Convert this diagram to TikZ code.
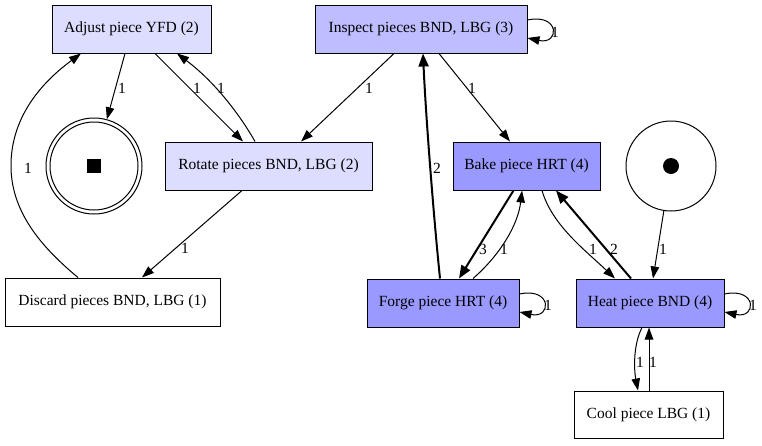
\documentclass[tikz,border=0pt]{standalone}
\usepackage{fontspec}
\setmainfont{Liberation Serif}
\usetikzlibrary{arrows.meta,calc}
\definecolor{lightp}{HTML}{DDDDFF}
\definecolor{midp}{HTML}{BDBDFF}
\definecolor{darkp}{HTML}{9999FF}
\tikzset{
  trans/.style={draw=black, line width=1pt, rectangle, minimum height=48pt, inner sep=0pt, font=\fontsize{15.5}{18}\selectfont},
  edge/.style={line width=1pt, -{Triangle[length=12pt,width=8.5pt]}},
  heavy/.style={line width=2pt, -{Triangle[length=13pt,width=10pt]}},
  lbl/.style={font=\fontsize{15.5}{18}\selectfont, inner sep=0pt},
  place/.style={draw=black, circle, line width=1pt, inner sep=0pt}
}
\begin{document}
\begin{tikzpicture}[x=1pt,y=-1pt]
\useasboundingbox[fill=white] (0,0) rectangle (762,445);
% nodes
\node[trans, fill=lightp, minimum width=159pt] (adjust) at (131.5,29) {Adjust piece YFD (2)};
\node[trans, fill=midp, minimum width=212pt] (inspect) at (421,29) {Inspect pieces BND, LBG (3)};
\node[trans, fill=lightp, minimum width=207pt] (rotate) at (268.5,166) {Rotate pieces BND, LBG (2)};
\node[trans, fill=darkp, minimum width=147pt] (bake) at (526.5,166) {Bake piece HRT (4)};
\node[trans, fill=white, minimum width=215pt] (discard) at (112.5,302) {Discard pieces BND, LBG (1)};
\node[trans, fill=darkp, minimum width=152pt] (forge) at (443,303) {Forge piece HRT (4)};
\node[trans, fill=darkp, minimum width=148pt] (heat) at (650,303) {Heat piece BND (4)};
\node[trans, fill=white, minimum width=149pt, minimum height=47pt] (cool) at (648.5,414.5) {Cool piece LBG (1)};
\node[place, minimum size=96pt] (final) at (94,166) {};
\draw[line width=1pt] (final.center) circle[radius=44pt];
\node[fill=black, minimum size=14pt, inner sep=0pt] (fsq) at (final.center) {};
\node[place, minimum size=90pt] (start) at (671,166) {};
\node[fill=black, circle, minimum size=16pt, inner sep=0pt] (sdot) at (start.center) {};
% edges
\draw[edge] ([xshift=-6.5pt]adjust.south) -- (final) node[lbl] at (122,88) {1};
\draw[edge] ([xshift=23.5pt]adjust.south) -- ([xshift=-25.5pt]rotate.north) node[lbl] at (197,88) {1};
\draw[edge] ([xshift=-13.5pt]rotate.north) .. controls (240,115) and (215,82) .. ([xshift=45.5pt]adjust.south) node[lbl] at (221,88) {1};
\draw[edge] ([xshift=-34.5pt]discard.north) .. controls (45,250) and (12,215) .. (11,168) .. controls (10,115) and (45,80) .. ([xshift=-50.5pt]adjust.south) node[lbl] at (28,168) {1};
\draw[edge] ([xshift=-26.5pt]rotate.south) -- ([xshift=29.5pt]discard.north) node[lbl] at (185,248) {1};
\draw[edge] ([xshift=-27pt]inspect.south) -- ([xshift=32.5pt]rotate.north) node[lbl] at (369,88) {1};
\draw[edge] ([xshift=18pt]inspect.south) -- ([xshift=-16.5pt]bake.north) node[lbl] at (472,88) {1};
\draw[edge] ([yshift=9pt]inspect.east) .. controls (560,13) and (560,45) .. ([yshift=-9pt]inspect.east) node[lbl] at (555,32) {1};
\draw[heavy] ([xshift=-3pt]forge.north) .. controls (434,220) and (426,120) .. ([xshift=2pt]inspect.south) node[lbl] at (437,168) {2};
\draw[heavy] ([xshift=-13pt]bake.south) -- ([xshift=16pt]forge.north) node[lbl] at (483,249) {3};
\draw[edge] ([xshift=30pt]forge.north) .. controls (500,255) and (518,225) .. ([xshift=-4.5pt]bake.south) node[lbl] at (504,249) {1};
\draw[edge] ([xshift=15.5pt]bake.south) .. controls (552,225) and (585,250) .. ([xshift=-35pt]heat.north) node[lbl] at (593,249) {1};
\draw[heavy] ([xshift=-19pt]heat.north) -- ([xshift=29.5pt]bake.south) node[lbl] at (614,249) {2};
\draw[edge] (start) -- ([xshift=3pt]heat.north) node[lbl] at (663,249) {1};
\draw[edge] ([yshift=9pt]forge.east) .. controls (552,287) and (552,319) .. ([yshift=-9pt]forge.east) node[lbl] at (548,305) {1};
\draw[edge] ([yshift=9pt]heat.east) .. controls (757,287) and (757,319) .. ([yshift=-9pt]heat.east) node[lbl] at (753,305) {1};
\draw[edge] ([xshift=-8pt]heat.south) .. controls (633,345) and (634,370) .. ([xshift=-10.5pt]cool.north) node[lbl] at (640,362) {1};
\draw[edge] ([xshift=0.5pt]cool.north) -- ([xshift=-1pt]heat.south) node[lbl] at (653,362) {1};
\end{tikzpicture}
\end{document}
